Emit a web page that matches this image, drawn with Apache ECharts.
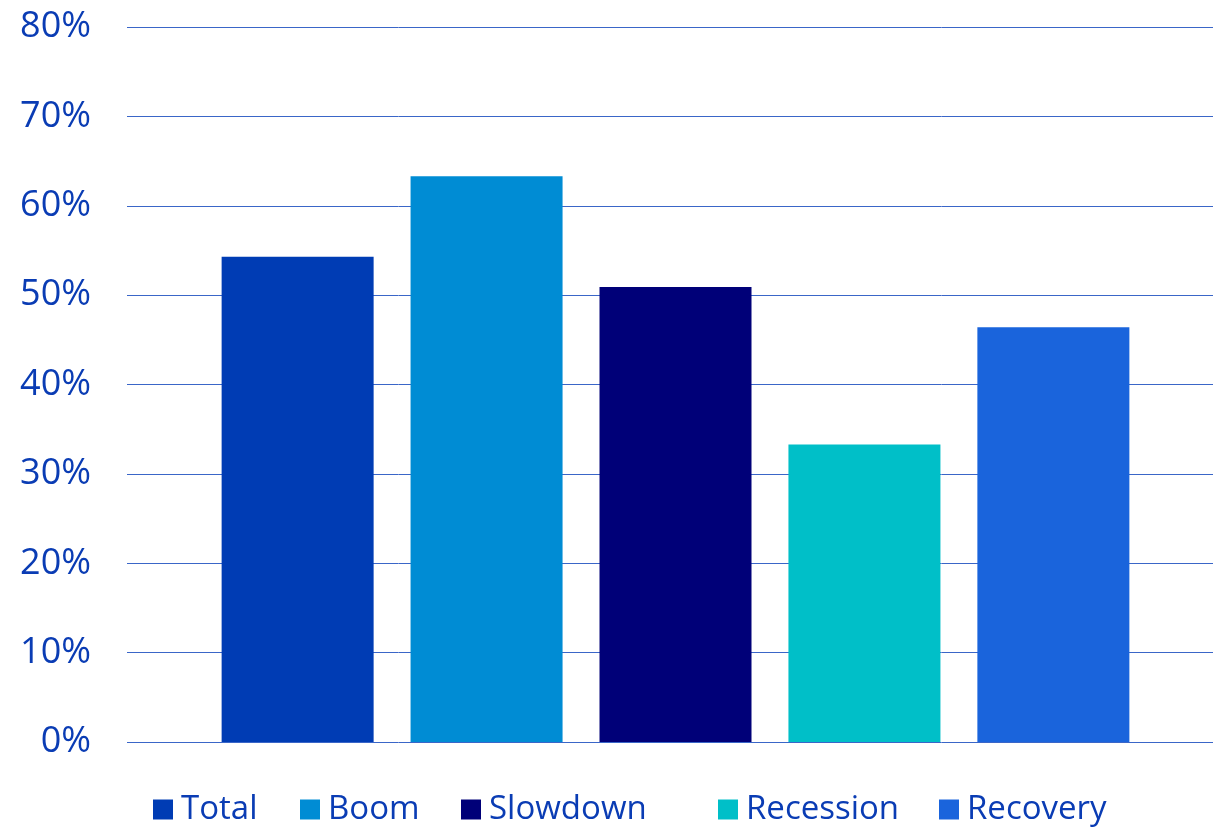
<!DOCTYPE html>
<html>
<head>
<meta charset="utf-8">
<script src="https://cdn.jsdelivr.net/npm/echarts@6/dist/echarts.min.js"></script>
<style>
html,body{margin:0;padding:0;background:#fff;}
#chart{width:1215px;height:827px;}
</style>
</head>
<body>
<div id="chart"></div>
<script>
var seriesNames = ['Total', 'Boom', 'Slowdown', 'Recession', 'Recovery'];
var seriesValues = [54.3, 63.3, 50.9, 33.3, 46.4];
var seriesColors = ['#003CB4', '#008CD4', '#000078', '#00BFC8', '#1A64DC'];
var categories = [''];
var yTicks = {min: 0, max: 80, interval: 10};

var textColor = '#0A3CB4';
var fontFamily = '"Open Sans", "Noto Sans", sans-serif';
var legendLeft = [148, 295, 456, 713, 934];

var chart = echarts.init(document.getElementById('chart'), null, {renderer: 'canvas'});
var option = {
  animation: false,
  backgroundColor: '#ffffff',
  grid: [
    {left: 127, right: 2, top: 27, bottom: 85, containLabel: false},
    {left: 138, right: 2, top: 27, bottom: 85, containLabel: false}
  ],
  xAxis: [
    {type: 'category', gridIndex: 0, data: categories, axisLine: {show: false}, axisTick: {show: false}, axisLabel: {show: false}},
    {type: 'category', gridIndex: 1, data: categories, axisLine: {show: false}, axisTick: {show: false}, axisLabel: {show: false}}
  ],
  yAxis: [
    {
      type: 'value', gridIndex: 0,
      min: yTicks.min, max: yTicks.max, interval: yTicks.interval,
      axisLine: {show: false},
      axisTick: {show: false},
      axisLabel: {
        formatter: '{value}%',
        color: textColor,
        fontSize: 36,
        fontFamily: fontFamily,
        margin: 36
      },
      splitLine: {lineStyle: {color: '#3A66C8', width: 1}}
    },
    {
      type: 'value', gridIndex: 1,
      min: yTicks.min, max: yTicks.max, interval: yTicks.interval,
      axisLine: {show: false}, axisTick: {show: false}, axisLabel: {show: false},
      splitLine: {show: false}
    }
  ],
  legend: seriesNames.map(function (n, i) {
    return {
      data: [n],
      left: legendLeft[i],
      top: 788,
      itemWidth: 20,
      itemHeight: 20,
      icon: 'rect',
      textStyle: {color: textColor, fontSize: 33, fontFamily: fontFamily, padding: [0, 0, 0, 3]}
    };
  }),
  series: seriesNames.map(function (n, i) {
    return {
      name: n,
      type: 'bar',
      xAxisIndex: 1,
      yAxisIndex: 1,
      data: [seriesValues[i]],
      barWidth: 152,
      barGap: '24.3%',
      itemStyle: {color: seriesColors[i]}
    };
  })
};
chart.setOption(option);
</script>
</body>
</html>
